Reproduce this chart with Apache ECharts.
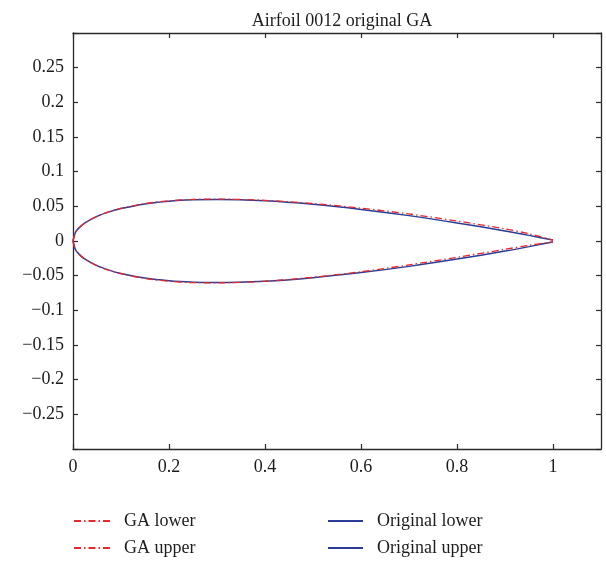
<!DOCTYPE html>
<html>
<head>
<meta charset="utf-8">
<script src="https://cdn.jsdelivr.net/npm/echarts@6/dist/echarts.min.js"></script>
<style>
html,body{margin:0;padding:0;background:#fff;}
#c{width:606px;height:564px;}
</style>
</head>
<body>
<div id="c"></div>
<script>
// chord positions
var xs = [0, 0.005, 0.0125, 0.025, 0.05, 0.075, 0.1, 0.15, 0.2, 0.25, 0.3, 0.4, 0.5, 0.6, 0.7, 0.8, 0.9, 0.95, 1.0];
// original NACA 0012 surfaces
var origUpper = [0, 0.0122, 0.0189, 0.0262, 0.0356, 0.0420, 0.0468, 0.0535, 0.0574, 0.0594, 0.0600, 0.0580, 0.0529, 0.0456, 0.0366, 0.0261, 0.0145, 0.0081, 0.0013];
var origLower = [0, -0.0122, -0.0189, -0.0262, -0.0356, -0.0420, -0.0468, -0.0535, -0.0574, -0.0594, -0.0600, -0.0580, -0.0529, -0.0456, -0.0366, -0.0261, -0.0145, -0.0081, -0.0013];
// GA surfaces
var gaUpper = [0, 0.0120, 0.0188, 0.0262, 0.0357, 0.0422, 0.0471, 0.0540, 0.0580, 0.0600, 0.0604, 0.0586, 0.0540, 0.0474, 0.0390, 0.0289, 0.0174, 0.0104, 0.0013];
var gaLower = [0, -0.0124, -0.0190, -0.0263, -0.0358, -0.0423, -0.0472, -0.0540, -0.0580, -0.0600, -0.0603, -0.0580, -0.0522, -0.0443, -0.0345, -0.0236, -0.0120, -0.0062, -0.0013];

var xTicks = [0, 0.2, 0.4, 0.6, 0.8, 1];
var titleText = 'Airfoil 0012 original GA';
var names = ['GA lower', 'GA upper', 'Original lower', 'Original upper'];

function pairs(x, y){ var out=[]; for (var i=0;i<x.length;i++) out.push([x[i], y[i]]); return out; }

var FONT = 'Liberation Serif';
var RED = '#e8282c';
var BLUE = '#2a3c95';
var AX = '#2b2b2b';
var TXT = '#1c1c1c';

var chart = echarts.init(document.getElementById('c'), null, {renderer:'canvas'});

function fmtY(v){
  if (Math.abs(v) > 0.29) return '';
  var s = String(parseFloat(v.toFixed(2)));
  return s.replace('-', '\u2212');
}
function fmtX(v){
  if (v > 1.05) return '';
  for (var i=0;i<xTicks.length;i++) if (Math.abs(xTicks[i]-v)<1e-6) return String(xTicks[i]);
  return '';
}

var axisCommon = {
  axisLine: {show:true, onZero:false, lineStyle:{color:AX, width:1.3}},
  axisTick: {show:true, inside:true, length:5, lineStyle:{color:AX, width:1.2}},
  splitLine: {show:false}
};

function legendItem(name, left, top, w){
  return {
    data:[name], left:left, top:top, orient:'horizontal',
    itemWidth:w, itemHeight:14, padding:0,
    itemStyle:{opacity:0},
    textStyle:{fontFamily:FONT, fontSize:18, color:TXT, padding:[0,0,0,9], lineHeight:20},
    selectedMode:false
  };
}

var option = {
  animation:false,
  backgroundColor:'#fff',
  title:{
    text:titleText, left:337, top:7, textAlign:'center',
    textStyle:{fontFamily:FONT, fontSize:18, fontWeight:'normal', color:TXT}
  },
  grid:{left:73, right:5, top:33, bottom:115, containLabel:false},
  legend:[
    legendItem(names[0], 73, 511, 36),
    legendItem(names[1], 73, 538, 36),
    legendItem(names[2], 327, 511, 35),
    legendItem(names[3], 327, 538, 35)
  ],
  xAxis:[
    Object.assign({type:'value', min:0, max:1.1, interval:0.2, position:'bottom',
      axisLabel:{formatter:fmtX, fontFamily:FONT, fontSize:18, color:TXT, margin:9, showMaxLabel:false}}, axisCommon),
    Object.assign({type:'value', min:0, max:1.1, interval:0.2, position:'top',
      axisLabel:{show:false}}, axisCommon)
  ],
  yAxis:[
    Object.assign({type:'value', min:-0.3, max:0.3, interval:0.05, position:'left',
      axisLabel:{formatter:fmtY, fontFamily:FONT, fontSize:18, color:TXT, margin:9}}, axisCommon),
    Object.assign({type:'value', min:-0.3, max:0.3, interval:0.05, position:'right',
      axisLabel:{show:false}}, axisCommon)
  ],
  series:[
    {name:names[0], type:'line', data:pairs(xs, gaLower), symbol:'none', smooth:0.3, z:3,
     itemStyle:{color:RED}, lineStyle:{color:RED, width:1.3, type:[7,3,1.5,3]}},
    {name:names[1], type:'line', data:pairs(xs, gaUpper), symbol:'none', smooth:0.3, z:3,
     itemStyle:{color:RED}, lineStyle:{color:RED, width:1.3, type:[7,3,1.5,3]}},
    {name:names[2], type:'line', data:pairs(xs, origLower), symbol:'none', smooth:0.3, z:2,
     itemStyle:{color:BLUE}, lineStyle:{color:BLUE, width:1.5}},
    {name:names[3], type:'line', data:pairs(xs, origUpper), symbol:'none', smooth:0.3, z:2,
     itemStyle:{color:BLUE}, lineStyle:{color:BLUE, width:1.5}}
  ]
};
chart.setOption(option);
</script>
</body>
</html>
